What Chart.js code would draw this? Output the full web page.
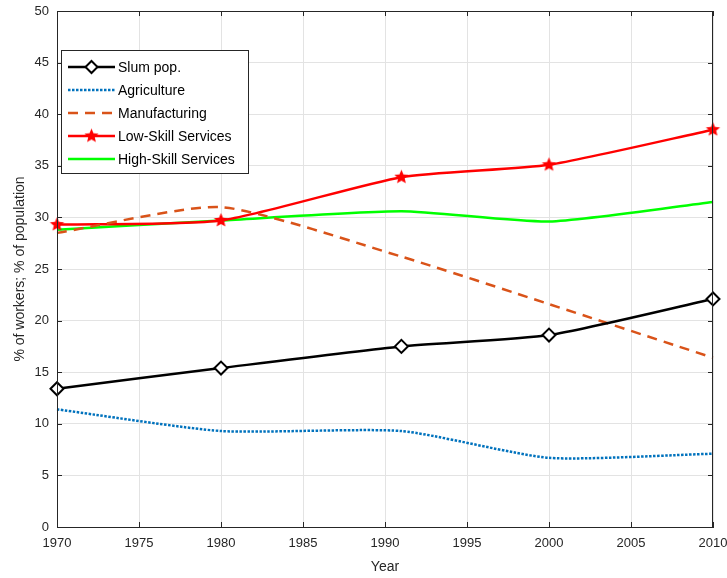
<!DOCTYPE html>
<html>
<head>
<meta charset="utf-8">
<script src="https://cdn.jsdelivr.net/npm/chart.js@4/dist/chart.umd.min.js"></script>
<style>
  html, body { margin: 0; padding: 0; background: #fff; }
  #wrap { width: 727px; height: 578px; }
</style>
</head>
<body>
<div id="wrap"><canvas id="chart" width="727" height="578"></canvas></div>
<script>
// data
const years = [1970, 1980, 1991, 2000, 2010];
const slumPop = [13.4, 15.4, 17.5, 18.6, 22.1];
const agriculture = [11.4, 9.3, 9.3, 6.7, 7.1];
const manufacturing = [28.5, 31.0, 26.2, 21.6, 16.4];
const lowSkill = [29.3, 29.7, 33.9, 35.1, 38.5];
const highSkill = [28.8, 29.7, 30.6, 29.6, 31.5];
const seriesNames = ["Slum pop.", "Agriculture", "Manufacturing", "Low-Skill Services", "High-Skill Services"];
const xTickValues = [1970, 1975, 1980, 1985, 1990, 1995, 2000, 2005, 2010];
const yTickValues = [0, 5, 10, 15, 20, 25, 30, 35, 40, 45, 50];

const axisColor = "#262626";
const font = "'Liberation Sans', Arial, sans-serif";

// filled five point star marker
function makeStar(color, r) {
    const c = document.createElement("canvas");
    const s = Math.ceil(r * 2 + 2);
    c.width = s; c.height = s;
    const g = c.getContext("2d");
    g.fillStyle = color;
    g.beginPath();
    for (let i = 0; i < 10; i++) {
        const rad = i % 2 === 0 ? r : r * 0.45;
        const a = -Math.PI / 2 + i * Math.PI / 5;
        const px = s / 2 + rad * Math.cos(a);
        const py = s / 2 + rad * Math.sin(a);
        if (i === 0) g.moveTo(px, py); else g.lineTo(px, py);
    }
    g.closePath();
    g.fill();
    return c;
}
const star = makeStar("#ff0000", 7.5);

function points(vals) {
    return years.map((y, i) => ({ x: y, y: vals[i] }));
}

// box, inside ticks and legend (drawn on top of the lines)
const matlabBox = {
    id: "matlabBox",
    afterDatasetsDraw(chart) {
        const { ctx, chartArea: a, scales } = chart;
        ctx.save();
        ctx.strokeStyle = axisColor;
        ctx.lineWidth = 1;
        ctx.strokeRect(a.left + 0.5, a.top + 0.5, a.right - a.left - 1, a.bottom - a.top);
        const t = 5;
        ctx.beginPath();
        yTickValues.forEach(v => {
            const py = Math.round(scales.y.getPixelForValue(v)) + 0.5;
            ctx.moveTo(a.left, py); ctx.lineTo(a.left + t, py);
            ctx.moveTo(a.right, py); ctx.lineTo(a.right - t, py);
        });
        xTickValues.forEach(v => {
            const px = Math.round(scales.x.getPixelForValue(v)) + 0.5;
            ctx.moveTo(px, a.bottom); ctx.lineTo(px, a.bottom - t);
            ctx.moveTo(px, a.top); ctx.lineTo(px, a.top + t);
        });
        ctx.stroke();

        // legend
        const lx = a.left + 4, ly = a.top + 39, lw = 187, lh = 123;
        ctx.fillStyle = "#fff";
        ctx.fillRect(lx, ly, lw, lh);
        ctx.strokeStyle = axisColor;
        ctx.strokeRect(lx + 0.5, ly + 0.5, lw, lh);
        ctx.font = "14px " + font;
        ctx.textBaseline = "middle";
        chart.data.datasets.forEach((ds, i) => {
            const cy = ly + 17 + i * 23;
            const x0 = lx + 7, x1 = lx + 54;
            ctx.save();
            ctx.strokeStyle = ds.borderColor;
            ctx.lineWidth = ds.borderWidth;
            ctx.setLineDash(ds.borderDash || []);
            ctx.beginPath();
            ctx.moveTo(x0, cy); ctx.lineTo(x1, cy);
            ctx.stroke();
            ctx.setLineDash([]);
            const mx = (x0 + x1) / 2;
            if (ds.pointStyle === "rectRot") {
                const r = 6;
                ctx.fillStyle = "#fff";
                ctx.lineWidth = 2;
                ctx.strokeStyle = ds.pointBorderColor;
                ctx.beginPath();
                ctx.moveTo(mx, cy - r); ctx.lineTo(mx + r, cy); ctx.lineTo(mx, cy + r); ctx.lineTo(mx - r, cy);
                ctx.closePath();
                ctx.fill(); ctx.stroke();
            } else if (ds.pointStyle instanceof HTMLCanvasElement) {
                const im = ds.pointStyle;
                ctx.drawImage(im, mx - im.width / 2, cy - im.height / 2);
            }
            ctx.restore();
            ctx.fillStyle = "#000";
            ctx.fillText(ds.label, x1 + 3, cy + 1);
        });
        ctx.restore();
    }
};

const ctx = document.getElementById("chart").getContext("2d");

new Chart(ctx, {
    type: "line",
    data: {
        datasets: [
            {
                label: seriesNames[0],
                data: points(slumPop),
                borderColor: "#000000",
                borderWidth: 2.5,
                pointStyle: "rectRot",
                pointRadius: 6.5,
                pointBorderWidth: 2,
                pointBorderColor: "#000000",
                pointBackgroundColor: "#ffffff"
            },
            {
                label: seriesNames[1],
                data: points(agriculture),
                borderColor: "#0072BD",
                borderWidth: 2.5,
                borderDash: [2.5, 1.5],
                pointRadius: 0
            },
            {
                label: seriesNames[2],
                data: points(manufacturing),
                borderColor: "#D95319",
                borderWidth: 2.5,
                borderDash: [10, 7],
                pointRadius: 0
            },
            {
                label: seriesNames[3],
                data: points(lowSkill),
                borderColor: "#ff0000",
                borderWidth: 2.5,
                pointStyle: star,
                pointRadius: 7
            },
            {
                label: seriesNames[4],
                data: points(highSkill),
                borderColor: "#00ff00",
                borderWidth: 2.5,
                pointRadius: 0
            }
        ]
    },
    options: {
        responsive: false,
        animation: false,
        clip: false,
        elements: { line: { tension: 0.2 } },
        layout: { padding: { top: 11, right: 14, left: 0, bottom: 0 } },
        plugins: {
            legend: { display: false },
            tooltip: { enabled: false }
        },
        scales: {
            x: {
                type: "linear",
                min: 1970,
                max: 2010,
                afterBuildTicks: s => { s.ticks = xTickValues.map(v => ({ value: v })); },
                afterFit: s => { s.height = 51; s.paddingLeft = 0; s.paddingRight = 0; },
                ticks: {
                    color: axisColor,
                    font: { family: font, size: 13 },
                    padding: 9,
                    maxRotation: 0,
                    callback: v => String(v)
                },
                grid: { color: "#e3e3e3", drawTicks: false },
                border: { color: axisColor },
                title: {
                    display: true,
                    text: "Year",
                    color: axisColor,
                    font: { family: font, size: 14 },
                    padding: { top: 4, bottom: 2 }
                }
            },
            y: {
                min: 0,
                max: 50,
                afterBuildTicks: s => { s.ticks = yTickValues.map(v => ({ value: v })); },
                afterFit: s => { s.width = 57; s.paddingTop = 0; s.paddingBottom = 0; },
                ticks: {
                    color: axisColor,
                    font: { family: font, size: 13 },
                    padding: 8,
                    callback: v => String(v)
                },
                grid: { color: "#e3e3e3", drawTicks: false },
                border: { color: axisColor },
                title: {
                    display: true,
                    text: "% of workers; % of population",
                    color: axisColor,
                    font: { family: font, size: 14 },
                    padding: { top: 12, bottom: 0 }
                }
            }
        }
    },
    plugins: [matlabBox]
});
</script>
</body>
</html>
